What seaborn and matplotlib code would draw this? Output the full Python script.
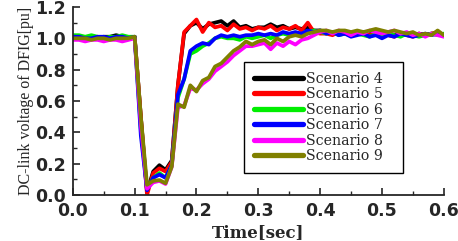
import numpy as np
import pandas as pd
import matplotlib
matplotlib.use('Agg')
import matplotlib.pyplot as plt
import seaborn as sns
from matplotlib.ticker import MultipleLocator, FormatStrFormatter

# tempo (s), passo de 0.01
tempo = [round(i * 0.01, 2) for i in range(61)]

# tensão do barramento CC (pu)
cenario_4 = [1.01, 1.01, 1.00, 1.01, 1.00, 1.01, 1.01, 1.02, 1.01, 1.00, 1.01,
             0.50, 0.02, 0.15, 0.19, 0.16, 0.22, 0.70,
             1.03, 1.08, 1.10, 1.06, 1.09, 1.10, 1.11, 1.08, 1.11, 1.07, 1.08, 1.06,
             1.07, 1.07, 1.09, 1.07, 1.08, 1.06, 1.07, 1.06, 1.07, 1.05, 1.05,
             1.04, 1.03, 1.04, 1.03, 1.02, 1.03, 1.04, 1.03, 1.03, 1.04, 1.02,
             1.02, 1.03, 1.02, 1.02, 1.03, 1.02, 1.03, 1.03, 1.02]
cenario_5 = [1.00, 1.01, 1.00, 1.00, 1.01, 1.00, 1.00, 1.01, 1.00, 1.00, 1.01,
             0.50, 0.00, 0.14, 0.17, 0.15, 0.21, 0.70,
             1.04, 1.08, 1.12, 1.04, 1.10, 1.07, 1.08, 1.05, 1.09, 1.06, 1.07, 1.05,
             1.07, 1.06, 1.08, 1.05, 1.07, 1.06, 1.08, 1.05, 1.10, 1.04, 1.03,
             1.03, 1.02, 1.04, 1.03, 1.02, 1.03, 1.04, 1.02, 1.03, 1.04, 1.02,
             1.01, 1.03, 1.02, 1.01, 1.03, 1.02, 1.03, 1.04, 1.02]
cenario_6 = [1.02, 1.02, 1.01, 1.02, 1.01, 1.00, 1.01, 1.01, 1.02, 1.01, 1.01,
             0.42, 0.04, 0.11, 0.14, 0.11, 0.19, 0.62,
             0.74, 0.90, 0.92, 0.95, 0.97, 1.00, 1.01, 1.00, 1.00, 0.99, 1.01, 1.00,
             1.01, 1.02, 1.00, 1.02, 1.03, 1.02, 1.03, 1.02, 1.04, 1.05, 1.04,
             1.03, 1.04, 1.02, 1.03, 1.02, 1.03, 1.02, 1.01, 1.03, 1.02, 1.03,
             1.02, 1.01, 1.03, 1.02, 1.01, 1.02, 1.03, 1.02, 1.03]
cenario_7 = [1.01, 1.01, 1.00, 1.00, 1.01, 1.01, 1.00, 1.01, 1.01, 1.00, 1.01,
             0.38, 0.03, 0.11, 0.13, 0.11, 0.19, 0.64,
             0.74, 0.92, 0.95, 0.97, 0.96, 1.00, 1.02, 1.01, 1.02, 1.01, 1.02, 1.02,
             1.03, 1.02, 1.03, 1.02, 1.04, 1.03, 1.04, 1.03, 1.05, 1.04, 1.05,
             1.03, 1.04, 1.02, 1.03, 1.01, 1.02, 1.03, 1.01, 1.02, 1.00, 1.02,
             1.01, 1.03, 1.02, 1.01, 1.02, 1.03, 1.02, 1.03, 1.02]
cenario_8 = [0.99, 0.99, 0.98, 0.99, 0.99, 0.98, 0.99, 0.99, 0.98, 0.99, 1.00,
             0.45, 0.04, 0.08, 0.09, 0.07, 0.18, 0.56,
             0.57, 0.68, 0.67, 0.71, 0.74, 0.79, 0.82, 0.85, 0.89, 0.92, 0.95, 0.95,
             0.96, 0.97, 0.93, 0.97, 0.95, 0.98, 0.96, 0.99, 1.00, 1.02, 1.04,
             1.05, 1.03, 1.05, 1.04, 1.02, 1.04, 1.03, 1.05, 1.04, 1.03, 1.04,
             1.05, 1.03, 1.04, 1.02, 1.03, 1.01, 1.03, 1.02, 1.01]
cenario_9 = [1.00, 1.00, 1.00, 0.99, 1.00, 1.00, 0.99, 1.00, 1.00, 1.00, 1.01,
             0.50, 0.065, 0.09, 0.095, 0.075, 0.18, 0.58,
             0.56, 0.70, 0.66, 0.73, 0.75, 0.82, 0.84, 0.88, 0.92, 0.945, 0.98, 0.96,
             0.98, 0.99, 0.96, 1.00, 0.98, 1.01, 1.02, 1.01, 1.03, 1.04, 1.05,
             1.05, 1.04, 1.05, 1.05, 1.04, 1.05, 1.04, 1.05, 1.06, 1.05, 1.04,
             1.05, 1.04, 1.03, 1.04, 1.02, 1.03, 1.02, 1.05, 1.02]

nomes = ['Scenario 4', 'Scenario 5', 'Scenario 6', 'Scenario 7', 'Scenario 8', 'Scenario 9']
cores = ['#000000', '#ff0000', '#00ee00', '#0000ff', '#ff00ff', '#808000']
series = [cenario_4, cenario_5, cenario_6, cenario_7, cenario_8, cenario_9]

sns.set_style('ticks')

fig = plt.figure(figsize=(4.58, 2.41), dpi=100)
ax = fig.add_axes([0.159, 0.191, 0.81, 0.78])

for nome, cor, y in zip(nomes, cores, series):
    df = pd.DataFrame({'tempo': tempo, 'tensao': y})
    sns.lineplot(data=df, x='tempo', y='tensao', color=cor, lw=2.7, label=nome, ax=ax)

ax.set_xlim(0, 0.6)
ax.set_ylim(0, 1.2)
ax.xaxis.set_major_locator(MultipleLocator(0.1))
ax.xaxis.set_minor_locator(MultipleLocator(0.05))
ax.yaxis.set_major_locator(MultipleLocator(0.2))
ax.yaxis.set_minor_locator(MultipleLocator(0.1))
ax.xaxis.set_major_formatter(FormatStrFormatter('%.1f'))
ax.yaxis.set_major_formatter(FormatStrFormatter('%.1f'))
ax.tick_params(which='major', direction='in', length=5, width=1.2, pad=5)
ax.tick_params(which='minor', direction='in', length=3, width=1.0)
for lab in ax.get_xticklabels() + ax.get_yticklabels():
    lab.set_fontfamily('DejaVu Sans')
    lab.set_fontweight('bold')
    lab.set_fontsize(12.5)

ax.spines['top'].set_visible(False)
ax.spines['right'].set_visible(False)
ax.spines['left'].set_linewidth(1.3)
ax.spines['bottom'].set_linewidth(1.3)

ax.set_xlabel('Time[sec]', fontfamily='DejaVu Serif', fontweight='bold', fontsize=12, labelpad=3)
ax.set_ylabel('DC-link voltage of DFIG[pu]', fontfamily='Liberation Serif', fontsize=11.5, labelpad=1)

leg = ax.legend(loc='upper left', bbox_to_anchor=(0.461, 0.128, 0.428, 0.579), mode='expand',
                borderaxespad=0, frameon=True, fancybox=False, edgecolor='black', framealpha=1,
                handlelength=3.5, labelspacing=0.1, borderpad=0.7, handletextpad=0.2,
                prop={'family': 'DejaVu Serif', 'size': 10.2})
leg.get_frame().set_linewidth(1.0)
for linha in leg.get_lines():
    linha.set_linewidth(3.8)

fig.savefig('out.png', dpi=100)
